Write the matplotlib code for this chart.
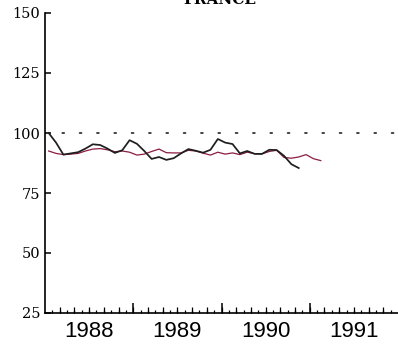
import numpy as np
import matplotlib
matplotlib.use('Agg')
import matplotlib.pyplot as plt
from matplotlib.ticker import FixedLocator, NullFormatter

# monthly index values, starting January 1988
black_vals = [100, 96, 91, 91.5, 92, 93.5, 95.3, 95, 93.5, 91.7, 92.8, 97,
              95.5, 92.5, 89.2, 90, 88.8, 89.5, 91.5, 93.3, 92.6, 91.8, 93, 97.5,
              96, 95.4, 91.5, 92.5, 91.3, 91.3, 93, 92.9, 90.5, 87, 85.4]
red_vals = [92.5, 91.5, 91, 91.2, 91.5, 92.5, 93.3, 93.5, 93, 92.2, 92.5, 92,
            90.8, 91.2, 92.3, 93.3, 91.8, 91.7, 91.7, 92.8, 92.5, 91.6, 90.8, 92,
            91.2, 91.7, 91, 92, 91.4, 91.3, 92.3, 92.8, 89.8, 89.5, 90, 91,
            89.3, 88.5]
start_year = 1988
years = [1988, 1989, 1990, 1991]
yticks = [25, 50, 75, 100, 125, 150]
baseline = 100

def month_pos(n):
    return start_year + (np.arange(n) + 0.5) / 12.0

fig = plt.figure(figsize=(3.98, 3.45), dpi=100)
ax = fig.add_axes([45 / 398, 1 - 313 / 345, 353 / 398, 300 / 345])

ax.axhline(baseline, color='#333333', lw=1.3, linestyle=(0, (1, 8.6)),
           dash_capstyle='round')
ax.plot(month_pos(len(red_vals)), red_vals, color='#8c1d40', lw=0.9)
ax.plot(month_pos(len(black_vals)), black_vals, color='#1e1e1e', lw=1.25)

ax.set_xlim(years[0], years[-1] + 1)
ax.set_ylim(25, 150)

for s in ['top', 'right']:
    ax.spines[s].set_visible(False)
ax.spines['left'].set_linewidth(1.2)
ax.spines['bottom'].set_linewidth(1.2)

# y axis
ax.set_yticks(yticks)
ax.set_yticklabels([str(v) for v in yticks], family='DejaVu Serif', fontsize=10.5)
ax.tick_params(axis='y', direction='in', length=4.5, width=1.1, pad=3.5)

# x axis: long ticks at year boundaries, short monthly ticks
ax.xaxis.set_major_locator(FixedLocator([y for y in years[1:]]))
ax.xaxis.set_major_formatter(NullFormatter())
months = [years[0] + k / 12.0 for k in range(1, 12 * len(years))]
ax.xaxis.set_minor_locator(FixedLocator(months))
ax.xaxis.set_minor_formatter(NullFormatter())
ax.tick_params(axis='x', which='major', direction='in', length=7, width=1.1)
ax.tick_params(axis='x', which='minor', direction='in', length=2.5, width=0.9)

# medium ticks every other month
ax.plot(months[1::2], [0] * len(months[1::2]), transform=ax.get_xaxis_transform(),
        marker=2, ms=4.5, mew=0.9, ls='none', color='black', clip_on=False)

for y in years:
    ax.text(y + 0.5, -0.028, str(y), transform=ax.get_xaxis_transform(),
            ha='center', va='top', family='Liberation Sans', fontsize=16)

fig.text(0.553, 1.0, 'FRANCE', family='DejaVu Serif', fontsize=11,
         fontweight='bold', ha='center', va='center')

fig.savefig('out.png', dpi=100)
